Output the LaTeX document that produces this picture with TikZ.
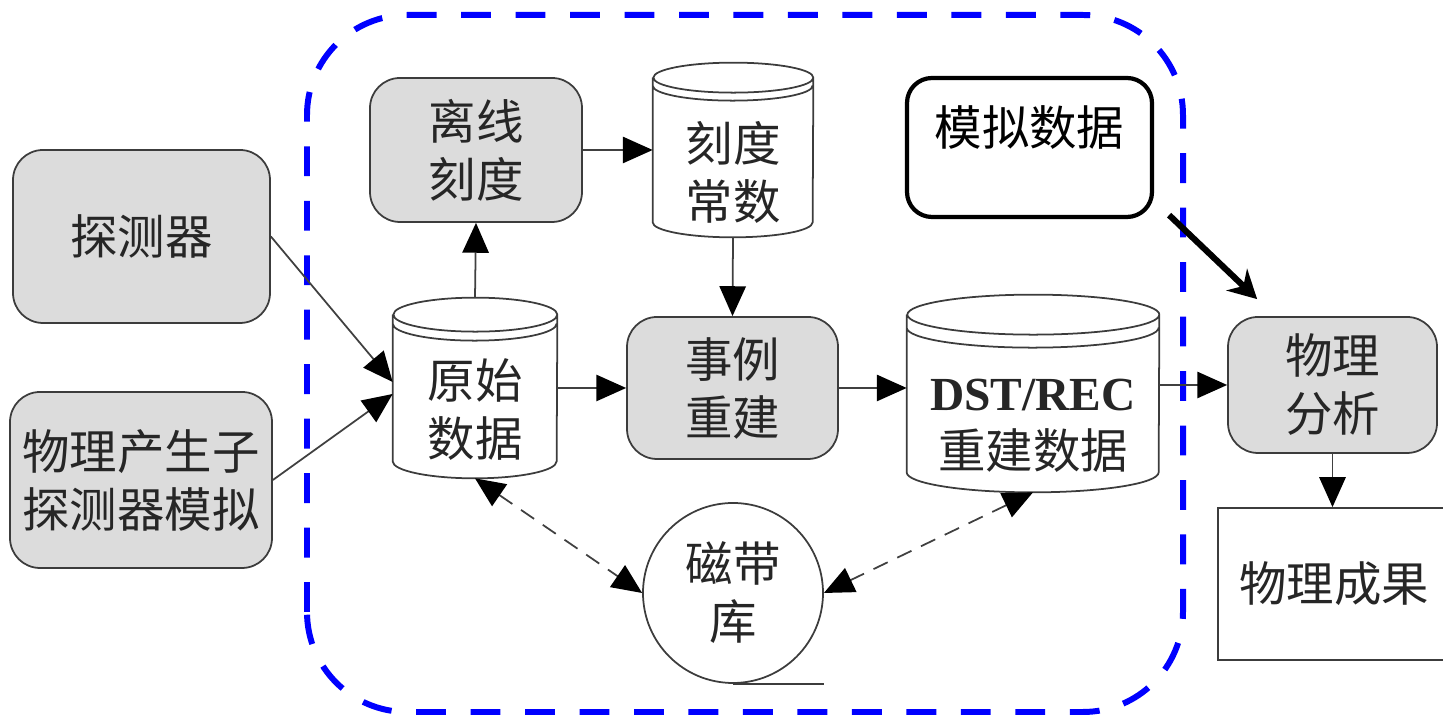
\documentclass[tikz,border=0pt]{standalone}
\usepackage{fontspec}
\setmainfont{Liberation Serif}
\newfontfamily\cjk{Noto Sans CJK SC}
\usetikzlibrary{arrows.meta}
\definecolor{boxfill}{RGB}{220,220,220}
\definecolor{boxline}{RGB}{60,60,60}
\definecolor{framecol}{RGB}{0,0,255}

\begin{document}
\begin{tikzpicture}[every node/.style={font=\cjk\fontsize{27}{33}\selectfont, text=black!85, inner sep=0pt, align=center},
  block/.style={rectangle, rounded corners=0.6cm, draw=boxline, fill=boxfill, line width=1pt},
  store/.style={rectangle},
  tapenode/.style={circle, draw=boxline, line width=1pt, minimum size=3.6cm},
  note/.style={rectangle, rounded corners=0.5cm, draw=black, line width=2.4pt, minimum width=4.9cm, minimum height=2.78cm},
  outbox/.style={rectangle, draw=boxline, line width=1pt},
  flow/.style={draw=black!75, line width=1pt, -{Triangle[length=17pt,width=15pt,color=black]}},
  tapeflow/.style={draw=black!75, line width=1pt, dash pattern=on 9pt off 6pt, {Triangle[length=17pt,width=15pt,color=black]}-{Triangle[length=17pt,width=15pt,color=black]}},
  bigarrow/.style={draw=black, line width=3.5pt, -{Stealth[length=16pt,width=17pt]}}]

  \useasboundingbox (0,0) rectangle (28.86,14.3);

  \draw[framecol, line width=3.4pt, dash pattern=on 17pt off 14pt, rounded corners=2cm] (6.14,0.06) rectangle (23.66,14.0);

  \node[block, minimum width=5.14cm, minimum height=3.46cm] (det) at (2.83,9.57) {探测器};
  \node[block, minimum width=5.24cm, minimum height=3.52cm] (sim) at (2.82,4.70) {物理产生子\\探测器模拟};
  \node[block, minimum width=4.24cm, minimum height=2.88cm] (calib) at (9.52,11.30) {离线\\刻度};
  \node[store, minimum width=3.2cm, minimum height=3.48cm, label={[yshift=-0.44cm]center:刻度\\常数}] (const) at (14.66,11.30) {};
  \node[store, minimum width=3.28cm, minimum height=3.6cm, label={[yshift=-0.44cm]center:原始\\数据}] (raw) at (9.50,6.54) {};
  \node[block, minimum width=4.22cm, minimum height=2.84cm] (reco) at (14.65,6.54) {事例\\重建};
  \node[store, minimum width=5.04cm, minimum height=3.94cm, label={[yshift=-0.64cm]center:{\rmfamily\bfseries DST/REC}\\重建数据}] (dst) at (20.66,6.43) {};
  \node[tapenode] (tape) at (14.66,2.44) {磁带\\库};
  \node[note, label={[yshift=0.39cm, text=black]center:模拟数据}] (simdata) at (20.59,11.35) {};
  \node[block, minimum width=4.18cm, minimum height=2.72cm] (ana) at (26.65,6.6) {物理\\分析};
  \node[outbox, minimum width=4.64cm, minimum height=3.04cm] (result) at (26.68,2.62) {物理成果};

  \foreach \nm/\rx/\ry/\rg in {raw/1.64/0.34/0.18, const/1.6/0.3/0.16, dst/2.52/0.4/0.26}
    \draw[boxline, line width=1pt] ([yshift=-\ry cm]\nm.north west) -- ([yshift=\ry cm]\nm.south west)
      arc[start angle=180, end angle=360, x radius=\rx cm, y radius=\ry cm] -- ([yshift=-\ry cm]\nm.north east)
      arc[start angle=0, end angle=360, x radius=\rx cm, y radius=\ry cm]
      ([yshift=-\ry cm-\rg cm]\nm.north west) arc[start angle=180, end angle=360, x radius=\rx cm, y radius=\ry cm];

  \draw[boxline, line width=1pt] (tape.south) -- (tape.south -| tape.east);

  \draw[flow] (det.east) -- ([yshift=0.12cm]raw.west);
  \draw[flow] (sim.east) -- ([yshift=-0.12cm]raw.west);
  \draw[flow] (raw.north) -- (calib.south);
  \draw[flow] (calib.east) -- (const.west);
  \draw[flow] (const.south) -- (reco.north);
  \draw[flow] (raw.east) -- (reco.west);
  \draw[flow] (reco.east) -- (reco.east -| dst.west);
  \draw[flow] (ana.west -| dst.east) -- (ana.west);
  \draw[flow] (ana.south) -- (ana.south |- result.north);
  \draw[tapeflow] (raw.south) -- (tape.west);
  \draw[tapeflow] (dst.south) -- (tape.east);
  \draw[bigarrow] ([xshift=0.3cm, yshift=0.08cm]simdata.south east) -- ([xshift=0.6cm, yshift=0.34cm]ana.north west);
\end{tikzpicture}
\end{document}
